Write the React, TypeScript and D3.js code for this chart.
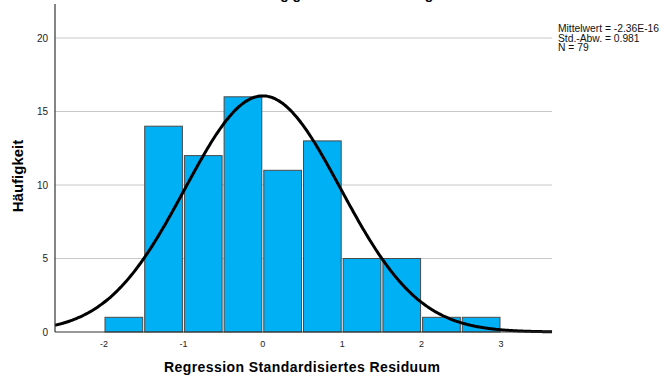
import * as d3 from "d3";
import { useEffect, useRef } from "react";

// histogram bins (width 0.5) and counts
const binStarts = [-2, -1.5, -1, -0.5, 0, 0.5, 1, 1.5, 2, 2.5];
const counts = [1, 14, 12, 16, 11, 13, 5, 5, 1, 1];
const binWidth = 0.5;
const yTicks = [0, 5, 10, 15, 20];
const xTicks = [-2, -1, 0, 1, 2, 3];
const statLines = ["Mittelwert = -2.36E-16", "Std.-Abw. = 0.981", "N = 79"];
const mean = -2.36e-16;
const sd = 0.981;
const n = 79;

const App = () => {
  const ref = useRef<SVGSVGElement>(null);

  useEffect(() => {
    const svg = d3.select(ref.current);
    svg.selectAll("*").remove();
    const width = 664;
    const height = 376;
    const font = "'Liberation Sans', Arial, sans-serif";

    const x = d3.scaleLinear().domain([-2, 3]).range([104, 501]);
    const y = d3.scaleLinear().domain([0, 20]).range([332, 38]);
    const left = 55;
    const right = 552;

    svg.attr("viewBox", [0, 0, width, height]).attr("width", width).attr("height", height);

    // title, cut off at the top edge as in the original
    svg
      .append("text")
      .attr("x", 335)
      .attr("y", -1)
      .attr("text-anchor", "middle")
      .attr("font-family", font)
      .attr("font-weight", "bold")
      .attr("font-size", 14)
      .text("Abhängige Variable: Leistung");

    // gridlines
    svg
      .append("g")
      .selectAll("line")
      .data(yTicks.filter((d) => d > 0))
      .join("line")
      .attr("x1", left)
      .attr("x2", right)
      .attr("y1", (d) => y(d))
      .attr("y2", (d) => y(d))
      .attr("stroke", "#c8c8c8")
      .attr("stroke-width", 1);

    // bars
    svg
      .append("g")
      .selectAll("rect")
      .data(binStarts)
      .join("rect")
      .attr("x", (d) => x(d) + 1)
      .attr("y", (d, i) => y(counts[i]))
      .attr("width", (d) => x(d + binWidth) - x(d) - 2)
      .attr("height", (d, i) => y(0) - y(counts[i]))
      .attr("fill", "#00b0f4")
      .attr("stroke", "#4a4a4a")
      .attr("stroke-width", 1);

    // normal curve
    const pdf = (v: number) =>
      (n * binWidth) / (sd * Math.sqrt(2 * Math.PI)) *
      Math.exp(-0.5 * ((v - mean) / sd) ** 2);
    const xs = d3.range(x.invert(left), x.invert(right) + 0.001, 0.02);
    const line = d3
      .line<number>()
      .x((d) => x(d))
      .y((d) => y(pdf(d)))
      .curve(d3.curveBasis);
    svg
      .append("path")
      .attr("d", line(xs))
      .attr("fill", "none")
      .attr("stroke", "#000")
      .attr("stroke-width", 3);

    // axes lines
    svg
      .append("line")
      .attr("x1", left)
      .attr("x2", right)
      .attr("y1", y(0))
      .attr("y2", y(0))
      .attr("stroke", "#333")
      .attr("stroke-width", 1);
    svg
      .append("line")
      .attr("x1", left)
      .attr("x2", left)
      .attr("y1", 4)
      .attr("y2", y(0))
      .attr("stroke", "#333")
      .attr("stroke-width", 1.2);

    // y tick labels
    svg
      .append("g")
      .selectAll("text")
      .data(yTicks)
      .join("text")
      .attr("x", left - 7)
      .attr("y", (d) => y(d) + 3.5)
      .attr("text-anchor", "end")
      .attr("font-family", font)
      .attr("font-size", 10)
      .attr("fill", "#222")
      .text((d) => d);

    // x tick labels
    svg
      .append("g")
      .selectAll("text")
      .data(xTicks)
      .join("text")
      .attr("x", (d) => x(d))
      .attr("y", 347)
      .attr("text-anchor", "middle")
      .attr("font-family", font)
      .attr("font-size", 9)
      .attr("fill", "#222")
      .text((d) => (d < 0 ? "-" + Math.abs(d) : d));

    // axis titles
    svg
      .append("text")
      .attr("x", 302)
      .attr("y", 372)
      .attr("text-anchor", "middle")
      .attr("font-family", font)
      .attr("font-weight", "bold")
      .attr("font-size", 14)
      .attr("textLength", 276)
      .text("Regression Standardisiertes Residuum");
    svg
      .append("text")
      .attr("transform", "translate(23,176) rotate(-90)")
      .attr("text-anchor", "middle")
      .attr("font-family", font)
      .attr("font-weight", "bold")
      .attr("font-size", 15)
      .text("Häufigkeit");

    // stats box
    svg
      .append("g")
      .selectAll("text")
      .data(statLines)
      .join("text")
      .attr("x", 558)
      .attr("y", (d, i) => 32 + i * 9.5)
      .attr("font-family", font)
      .attr("font-size", 10.3)
      .attr("fill", "#111")
      .text((d) => d);
  }, []);

  return <svg ref={ref} style={{ position: "absolute", left: 0, top: 0 }} />;
};

export default App;
